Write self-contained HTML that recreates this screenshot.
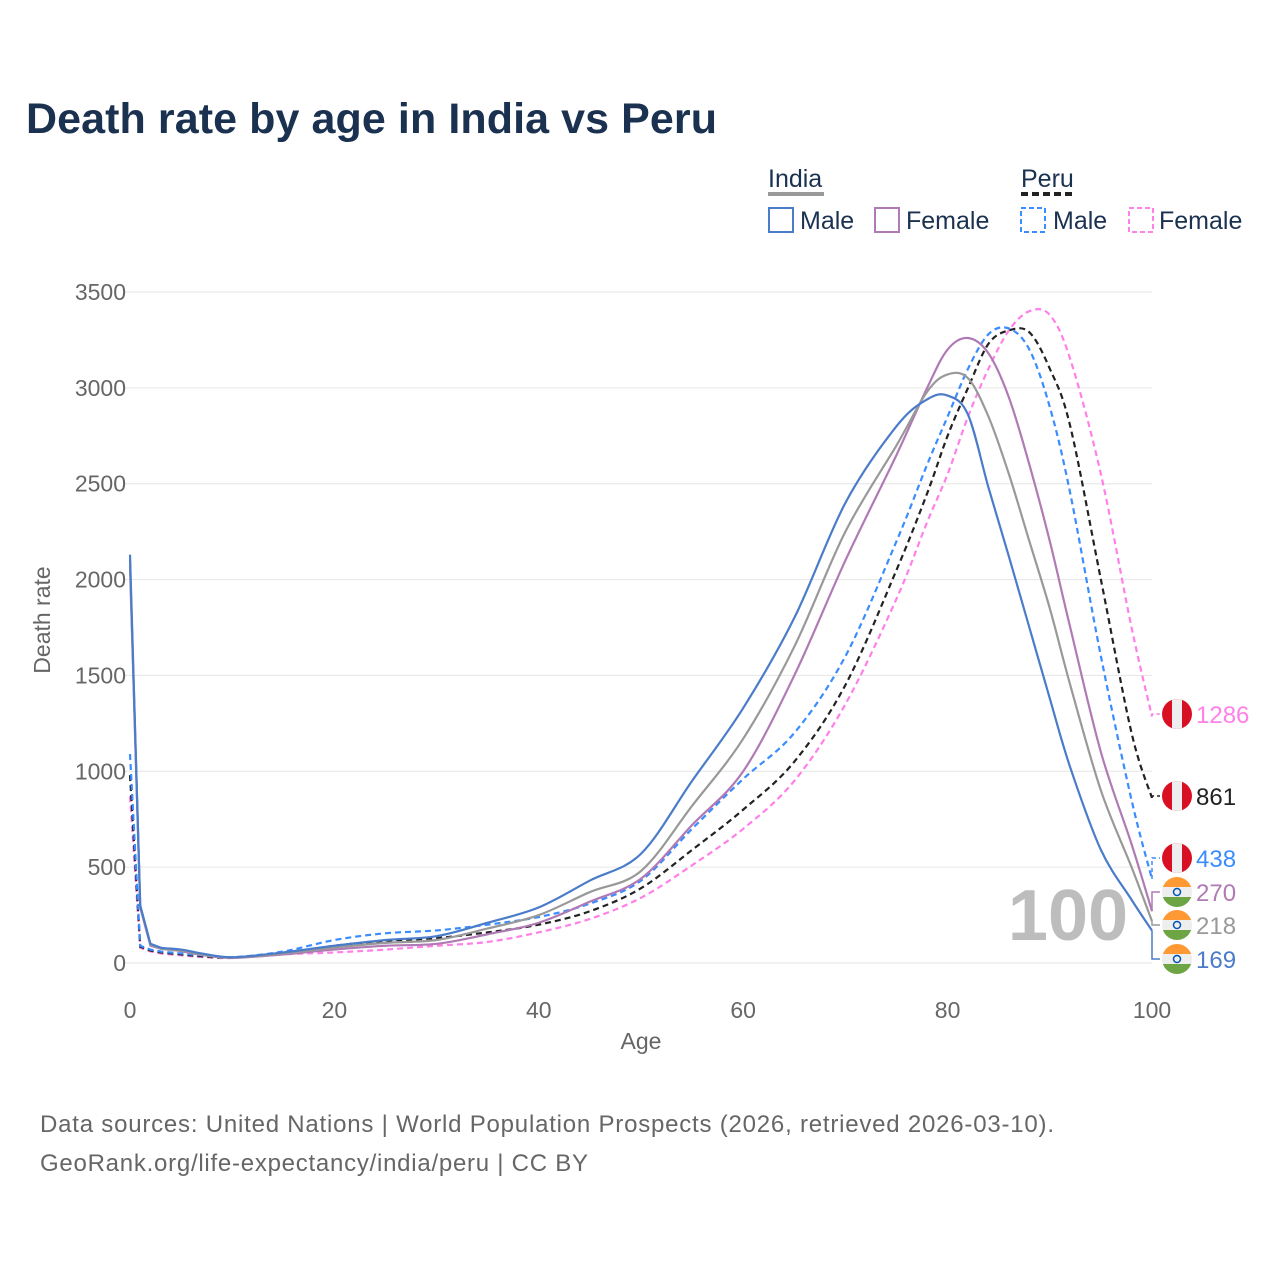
<!DOCTYPE html>
<html><head><meta charset="utf-8"><style>
body{margin:0;background:#fff;font-family:"Liberation Sans",sans-serif}
#wrap{position:relative;width:1280px;height:1280px;overflow:hidden}
</style></head><body>
<div id="wrap">
<svg id="svg" width="1280" height="1280" xmlns="http://www.w3.org/2000/svg" style="position:absolute;left:0;top:0">
<text x="26" y="133" font-size="43" font-weight="bold" fill="#1a3150" textLength="691">Death rate by age in India vs Peru</text>
<g font-size="25" fill="#1a3150">
<text x="768" y="187">India</text>
<line x1="768" y1="194" x2="824" y2="194" stroke="#999" stroke-width="4"/>
<text x="1021" y="187">Peru</text>
<line x1="1021" y1="194" x2="1075" y2="194" stroke="#222" stroke-width="4" stroke-dasharray="7,4"/>
<g><rect x="769" y="208" width="24" height="24" fill="none" stroke="#4a7cc9" stroke-width="2"/><text x="800" y="229">Male</text></g>
<g><rect x="875" y="208" width="24" height="24" fill="none" stroke="#b07ab5" stroke-width="2"/><text x="906" y="229">Female</text></g>
<g><rect x="1021" y="208" width="24" height="24" fill="none" stroke="#3a8cff" stroke-width="2" stroke-dasharray="5,3"/><text x="1053" y="229">Male</text></g>
<g><rect x="1129" y="208" width="24" height="24" fill="none" stroke="#ff80e8" stroke-width="2" stroke-dasharray="5,3"/><text x="1159" y="229">Female</text></g>
</g>
<g id="grid"></g>
<text x="1068" y="940" font-size="72" font-weight="bold" fill="#bdbdbd" text-anchor="middle">100</text>
<g id="series"></g>
<g id="ends"></g>
<text x="641" y="1049" font-size="23" fill="#666" text-anchor="middle">Age</text>
<text transform="translate(50,620) rotate(-90)" font-size="23" fill="#666" text-anchor="middle">Death rate</text>
<text x="40" y="1132" font-size="24" fill="#666" textLength="1014">Data sources: United Nations | World Population Prospects (2026, retrieved 2026-03-10).</text>
<text x="40" y="1171" font-size="24" fill="#666" textLength="548">GeoRank.org/life-expectancy/india/peru | CC BY</text>
</svg>
</div>
<script>
const ages=[0,1,2,3,5,7,10,15,20,25,30,35,40,45,50,55,60,65,70,75,78,80,82,84,86,88,90,92,95,98,100];
const indiaMale=[2130,300,100,80,70,50,30,55,90,120,140,210,290,430,570,950,1330,1800,2400,2800,2940,2960,2860,2480,2120,1750,1380,1020,590,330,169];
const indiaTotal=[2100,300,95,75,65,45,28,50,80,105,120,180,250,370,480,820,1170,1650,2250,2700,2980,3070,3050,2850,2550,2200,1850,1450,900,500,218];
const indiaFemale=[2070,290,90,75,62,42,27,45,70,90,100,150,210,320,440,720,1000,1500,2100,2650,3000,3200,3260,3180,2950,2600,2200,1750,1100,620,270];
const peruMale=[1090,90,70,60,50,40,30,60,120,155,170,200,240,310,430,700,960,1200,1600,2200,2600,2850,3100,3280,3310,3200,2900,2450,1600,850,438];
const peruTotal=[980,85,65,55,45,35,28,50,90,115,130,160,200,270,390,590,800,1050,1450,2050,2450,2750,3000,3230,3300,3290,3100,2800,2000,1200,861];
const peruFemale=[870,80,60,50,40,32,26,45,55,70,90,110,160,230,340,510,700,950,1350,1900,2300,2550,2850,3100,3300,3400,3380,3150,2550,1750,1286];
const yTicks=[0,500,1000,1500,2000,2500,3000,3500];
const xTicks=[0,20,40,60,80,100];
const NS="http://www.w3.org/2000/svg";
const X=a=>130+a*10.22, Y=v=>963-v*0.19171;
function mk(t,at,p){const e=document.createElementNS(NS,t);for(const k in at)e.setAttribute(k,at[k]);p.appendChild(e);return e;}
const grid=document.getElementById('grid');
yTicks.forEach(v=>{const l=mk('line',{x1:125,x2:1152,y1:Y(v),y2:Y(v),stroke:'#e6e6e6','stroke-width':1},grid);


const t=mk('text',{x:126,y:Y(v)+8,'font-size':23,fill:'#666','text-anchor':'end'},grid);t.textContent=v;

});
xTicks.forEach(v=>{const t=mk('text',{x:X(v),y:1018,'font-size':23,fill:'#666','text-anchor':'middle'},grid);t.textContent=v;

});
function path(vals){let pts=ages.map((a,i)=>[X(a),Y(vals[i])]);let d='M'+pts[0][0]+','+pts[0][1];
for(let i=0;i<pts.length-1;i++){const p0=pts[Math.max(i-1,0)],p1=pts[i],p2=pts[i+1],p3=pts[Math.min(i+2,pts.length-1)];
if(i<3){d+=' L'+p2[0]+','+p2[1];continue;}
const c1=[p1[0]+(p2[0]-p0[0])/6,p1[1]+(p2[1]-p0[1])/6],c2=[p2[0]-(p3[0]-p1[0])/6,p2[1]-(p3[1]-p1[1])/6];
d+=' C'+c1+' '+c2+' '+p2;}return d;}
const S=document.getElementById('series'),E=document.getElementById('ends');
const defs=[
['peru-female',peruFemale,'#ff80e8','6,4',714,'peru'],
['peru-total',peruTotal,'#222','6,4',796,'peru'],
['peru-male',peruMale,'#3a8cff','6,4',858,'peru'],
['india-female',indiaFemale,'#b07ab5','',892,'india'],
['india-total',indiaTotal,'#999','',925,'india'],
['india-male',indiaMale,'#4a7cc9','',959,'india']];
defs.forEach(([n,vals,c,da,ly,fl])=>{
const p=mk('path',{d:path(vals),fill:'none',stroke:c,'stroke-width':2.2,'stroke-dasharray':da},S);


const ey=Y(vals[vals.length-1]);
const cn=mk('path',{d:`M1152,${ey} L1152,${ly} L1160,${ly}`,fill:'none',stroke:c,'stroke-width':1.5,'stroke-dasharray':da?'4,3':''},E);


const g=mk('g',{},E);


const cid='c'+n;mk('clipPath',{id:cid},g).appendChild(document.createElementNS(NS,'circle')).setAttribute('r',15);
g.lastChild.firstChild.setAttribute('cx',1177);g.lastChild.firstChild.setAttribute('cy',ly);
const gg=mk('g',{'clip-path':`url(#${cid})`},g);
if(fl==='peru'){mk('rect',{x:1162,y:ly-15,width:30,height:30,fill:'#d91023'},gg);mk('rect',{x:1172,y:ly-15,width:10,height:30,fill:'#eee'},gg);}
else{mk('rect',{x:1162,y:ly-15,width:30,height:10,fill:'#ff9933'},gg);mk('rect',{x:1162,y:ly-5,width:30,height:10,fill:'#eee'},gg);mk('rect',{x:1162,y:ly+5,width:30,height:10,fill:'#6da544'},gg);mk('circle',{cx:1177,cy:ly,r:3.5,fill:'none',stroke:'#0052b4','stroke-width':1.5},gg);}
const t=mk('text',{x:1196,y:ly+9,'font-size':24,fill:c},E);t.textContent=vals[vals.length-1];


});
</script>
</body></html>
